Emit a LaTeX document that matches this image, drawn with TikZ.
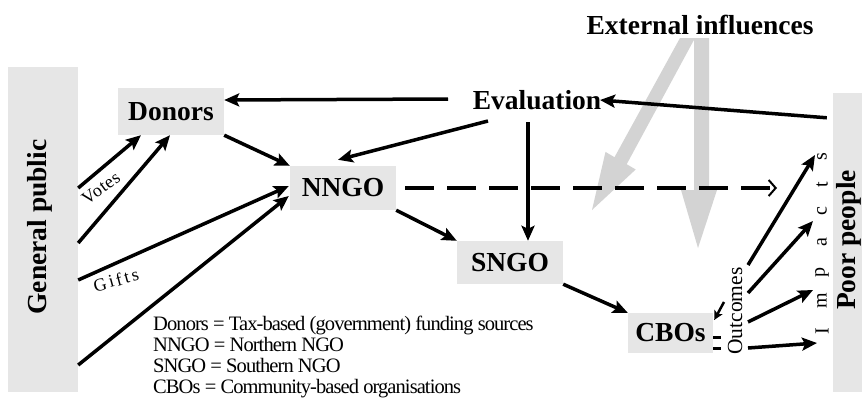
\documentclass[tikz,border=0pt]{standalone}
\usepackage{fontspec}
\setmainfont{Liberation Serif}
\usetikzlibrary{arrows.meta}
\definecolor{boxgray}{HTML}{E6E6E6}
\definecolor{arrgray}{HTML}{D3D3D3}
\tikzset{
  box/.style={fill=boxgray, inner sep=0pt, font=\fontsize{27.5}{32}\selectfont\bfseries},
  lbl/.style={inner sep=0pt, font=\fontsize{27.5}{32}\selectfont\bfseries},
  small/.style={inner sep=0pt, font=\fontsize{20}{21}\selectfont},
  legendtext/.style={inner sep=0pt, font=\fontsize{20.5}{21.3}\selectfont\addfontfeature{LetterSpace=-4.5}},
  tiny/.style={inner sep=0pt, font=\fontsize{17}{18}\selectfont},
  arr/.style={line width=3.5pt, -{Stealth[length=15pt,width=13pt,inset=3pt]}},
  arrsmall/.style={line width=2.5pt, -{Stealth[length=9pt,width=9pt,inset=2pt]}},
  dasharr/.style={line width=3.5pt, dash pattern=on 29pt off 13pt, -{Straight Barb[length=7pt,width=16pt,line width=2pt]}},
}
\begin{document}
\begin{tikzpicture}[x=1pt,y=-1pt]
\useasboundingbox (0,0) rectangle (862,407);
% grey influence arrows
\fill[arrgray] (694,38) -- (709,38) -- (709,190) -- (717,190) -- (698,248) -- (681,190) -- (694,190) -- cycle;
\fill[arrgray] (680,38) -- (695,38) -- (626.7,164.2) -- (635.7,169.5) -- (592,210) -- (605.5,151.9) -- (614.5,157.2) -- cycle;
% boxes
\node[box, minimum width=70pt, minimum height=325pt] (gp) at (43,229.5) {};
\node[lbl, rotate=90] (gptext) at (40,227) {General public};
\node[box, minimum width=29pt, minimum height=299pt] (poor) at (847.5,242.5) {};
\node[lbl, rotate=90] (poortext) at (849,240) {Poor people};
\node[box, minimum width=106pt, minimum height=47pt] (donors) at (171,111.5) {Donors};
\node[box, minimum width=106pt, minimum height=44pt] (nngo) at (343,188) {NNGO};
\node[box, minimum width=106pt, minimum height=43pt] (sngo) at (510,262.5) {SNGO};
\node[box, minimum width=85pt, minimum height=40pt] (cbos) at (670.5,333) {CBOs};
\node[lbl] (eval) at (537,100) {Evaluation};
\node[lbl] (ext) at (700,25) {External influences};
\node[small, rotate=90, font=\fontsize{21.5}{22}\selectfont] (outc) at (735,311) {Outcomes};
\node[small, rotate=90] (impi) at (822,331) {I};
\node[small, rotate=90] (impm) at (822,301) {m};
\node[small, rotate=90] (impp) at (822,272) {p};
\node[small, rotate=90] (impa) at (822,242) {a};
\node[small, rotate=90] (impc) at (822,211) {c};
\node[small, rotate=90] (impt) at (822,185) {t};
\node[small, rotate=90] (imps) at (822,157) {s};
\node[tiny, rotate=36, font=\fontsize{18}{19}\selectfont\addfontfeature{LetterSpace=4}] (votes) at (101,188) {Votes};
\node[tiny, rotate=15, font=\fontsize{18}{19}\selectfont\addfontfeature{LetterSpace=14}] (gifts) at (116,280) {Gifts};
\node[legendtext, anchor=west, align=left] (legend) at (153,357) {Donors = Tax-based (government) funding sources\\NNGO = Northern NGO\\SNGO = Southern NGO\\CBOs = Community-based organisations};
\coordinate (dashend) at (777,188);
% connectors
\draw[arr] ([shift={(0,-41.5)}]gp.east) -- ([shift={(-30,0)}]donors.south);
\draw[arr] ([shift={(0,13.5)}]gp.east) -- ([shift={(-1,0)}]donors.south);
\draw[arr] ([shift={(0,50.5)}]gp.east) -- ([shift={(-1,-2)}]nngo.west);
\draw[arr] ([shift={(0,135.5)}]gp.east) -- ([shift={(-1,8)}]nngo.west);
\draw[arr] (donors.south east) -- (nngo.north west);
\draw[arr] ([shift={(-89,-1)}]eval.center) -- ([shift={(0,-11.5)}]donors.east);
\draw[arr] ([shift={(-6,25)}]poor.north west) -- ([shift={(63,0)}]eval.center);
\draw[arr] ([shift={(-49,21)}]eval.center) -- ([shift={(-5,-6)}]nngo.north);
\draw[arr] ([shift={(-9,22)}]eval.center) -- ([shift={(18,0)}]sngo.north);
\draw[arr] (nngo.south east) -- (sngo.north west);
\draw[arr] (sngo.south east) -- (cbos.north west);
\draw[dasharr] ([shift={(9,0)}]nngo.east) -- (dashend);
\draw[arr] ([shift={(13,-46)}]outc.center) -- ([shift={(-7,-2)}]imps.center);
\draw[arr] ([shift={(13,-18)}]outc.center) -- ([shift={(-9,10)}]impc.center);
\draw[arr] ([shift={(13,11)}]outc.center) -- ([shift={(-9,-11)}]impm.center);
\draw[arr] ([shift={(13,37)}]outc.center) -- ([shift={(-5,12)}]impi.center);
\draw[arrsmall] ([shift={(-11,-9)}]outc.center) -- ([shift={(1,-13)}]cbos.east);
\draw[line width=3pt] ([shift={(0,4)}]cbos.east) -- ([shift={(8,4)}]cbos.east);
\draw[line width=3pt] ([shift={(0,15)}]cbos.east) -- ([shift={(8,15)}]cbos.east);
\end{tikzpicture}
\end{document}
